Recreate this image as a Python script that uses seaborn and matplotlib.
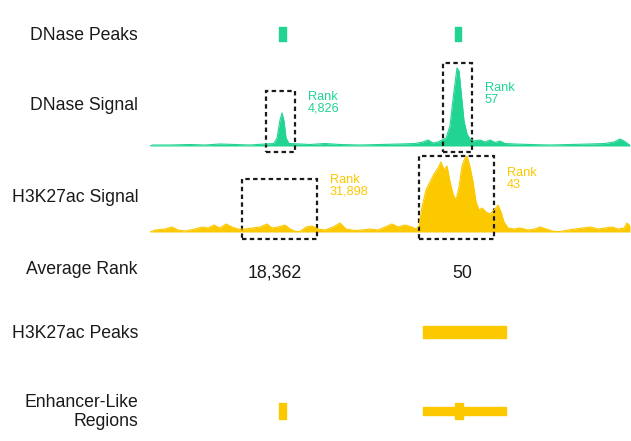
import numpy as np
import pandas as pd
import matplotlib
matplotlib.use("Agg")
import matplotlib.pyplot as plt
from matplotlib.patches import Rectangle
import seaborn as sns

GREEN = "#22d492"
YELLOW = "#fcc800"

# genomic positions (arbitrary units, 0..480 across the window)
dnase_pos = [0, 3, 20, 40, 55, 70, 85, 100, 115, 124, 127, 130, 132, 134, 136, 139, 150, 160, 175,
             190, 210, 230, 250, 265, 273, 278, 283, 288, 292, 296, 300, 304, 307, 309, 311, 314,
             317, 320, 324, 330, 335, 340, 345, 350, 355, 365, 380, 400, 420, 440, 455, 464, 470,
             474, 478, 480]
dnase_val = [0, 1, 1, 1.5, 1, 2, 1.5, 1, 2, 2.5, 8, 26, 33, 25, 8, 2.5, 2, 1.5, 2.5,
             1.5, 1, 1.5, 2, 2.5, 4, 6, 3, 4, 6, 8, 20, 55, 78, 75, 55, 25,
             12, 7, 5, 6, 4, 6, 3.5, 5, 2.5, 2, 1.5, 1, 1.5, 2, 2.5, 4, 7,
             5, 2, 1]

h3k_pos = [0, 5, 15, 22, 28, 35, 45, 52, 58, 64, 70, 76, 82, 88, 95, 102, 110, 117, 122, 128,
           135, 140, 146, 150, 156, 162, 168, 175, 183, 190, 196, 205, 212, 220, 228, 235, 242,
           248, 255, 262, 266, 269, 272, 276, 280, 284, 288, 291, 294, 297, 300, 303, 306, 309,
           312, 315, 317, 320, 323, 326, 329, 332, 336, 340, 344, 348, 351, 354, 358, 364, 370,
           378, 385, 390, 396, 404, 410, 418, 425, 433, 440, 448, 455, 462, 468, 474, 477, 480]
h3k_val = [0, 2, 3, 5, 2, 1, 3, 5, 4, 7, 4, 8, 5, 3, 3, 4, 5, 8, 4, 5,
           7, 3, 0.5, 0.5, 5, 6, 3, 2, 5, 9, 3, 1.5, 2, 3, 2, 5, 8,
           5, 7, 5, 3, 6, 25, 42, 50, 58, 64, 70, 62, 66, 50, 38, 32, 45,
           66, 74, 76, 65, 50, 30, 22, 24, 20, 18, 22, 27, 20, 10, 4, 3, 4,
           2, 3, 5, 3, 0.5, 0.5, 2, 3, 4, 5, 3, 4, 5, 3, 4, 9, 6]

dnase_peaks = [(129, 7), (305, 6)]
h3k_peaks = [(273, 83)]
enhancer_cores = [(129, 7), (305, 8)]
enhancer_spans = [(273, 83)]

# candidate regions: (start, width) in the DNase / H3K27ac tracks, and ranks
dnase_boxes = [(116, 29), (293, 29)]
dnase_box_top = [55, 83]
h3k_boxes = [(92, 75), (269, 75)]
h3k_box_top = [53, 76]
dnase_rank = [4826, 57]
h3k_rank = [31898, 43]
avg_rank = [(a + b) // 2 for a, b in zip(dnase_rank, h3k_rank)]
avg_rank_pos = [125, 312]

track_labels = ["DNase Peaks", "DNase Signal", "H3K27ac Signal", "Average Rank",
                "H3K27ac Peaks", "Enhancer-Like\nRegions"]
label_y = [35, 105, 197, 270, 334, 412]

sns.set_theme(style="white")
plt.rcParams["font.family"] = ["Liberation Sans", "DejaVu Sans"]

W, H = 631, 441
fig = plt.figure(figsize=(W / 100, H / 100), dpi=100)


def track(y0, y1, x0=150, x1=630):
    ax = fig.add_axes([x0 / W, 1 - y1 / H, (x1 - x0) / W, (y1 - y0) / H])
    ax.set_xlim(0, 480)
    ax.axis("off")
    return ax


def boxes(ax, spans, tops, bottom):
    for (s, w), t in zip(spans, tops):
        ax.add_patch(Rectangle((s, bottom), w, t - bottom, fill=False, ec="#1a1a1a",
                               lw=1.6, ls=(0, (2, 1.5)), clip_on=False))


def ranks(ax, spans, vals, ys, color):
    for (s, w), v, y in zip(spans, vals, ys):
        ax.text(s + w + 13, y, f"Rank\n{v:,}", color=color, fontsize=9.2,
                ha="left", va="center", linespacing=0.9)


# DNase peaks
ax = track(24, 44)
ax.set_ylim(-10, 10)
ax.broken_barh(dnase_peaks, (-7, 14), color=GREEN)

# DNase signal
ax = track(40, 160)
ax.set_ylim(-14, 106)
df = pd.DataFrame({"pos": dnase_pos, "val": dnase_val})
sns.lineplot(data=df, x="pos", y="val", ax=ax, color=GREEN, lw=0.8)
ax.fill_between(df["pos"], 0, df["val"], color=GREEN, lw=0)
boxes(ax, dnase_boxes, dnase_box_top, -6)
ranks(ax, dnase_boxes, dnase_rank, [43, 52], GREEN)
ax.axis("off")

# H3K27ac signal
ax = track(150, 245)
ax.set_ylim(-13, 82)
df = pd.DataFrame({"pos": h3k_pos, "val": h3k_val})
sns.lineplot(data=df, x="pos", y="val", ax=ax, color=YELLOW, lw=0.8)
ax.fill_between(df["pos"], 0, df["val"], color=YELLOW, lw=0)
boxes(ax, h3k_boxes, h3k_box_top, -7)
ranks(ax, h3k_boxes, h3k_rank, [46, 53], YELLOW)
ax.axis("off")

# Average rank
ax = track(258, 288)
ax.set_ylim(-1, 1)
for x, v in zip(avg_rank_pos, avg_rank):
    ax.text(x, 0, f"{v:,}", ha="center", va="center", fontsize=12.8, color="#1a1a1a")

# H3K27ac peaks
ax = track(322, 342)
ax.set_ylim(-10, 10)
ax.broken_barh(h3k_peaks, (-6, 12), color=YELLOW)

# Enhancer-like regions
ax = track(401, 421)
ax.set_ylim(-10, 10)
ax.broken_barh(enhancer_spans, (-4, 8), color=YELLOW)
ax.broken_barh(enhancer_cores, (-8, 16), color=YELLOW)

for lab, y in zip(track_labels, label_y):
    fig.text(138 / W, 1 - y / H, lab, ha="right", va="center", fontsize=12.7,
             color="#1a1a1a", linespacing=1.15)

fig.savefig("out.png", dpi=100, facecolor="white")
